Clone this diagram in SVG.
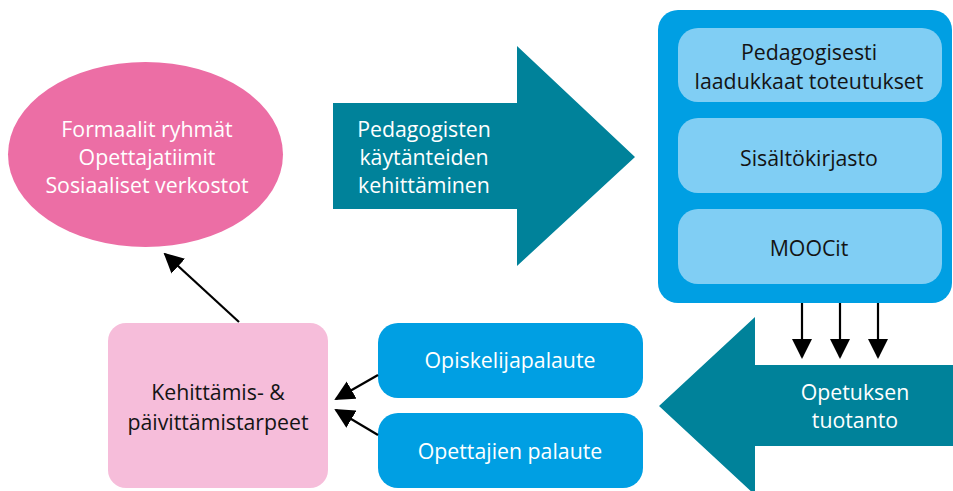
<svg xmlns="http://www.w3.org/2000/svg" width="953" height="491" viewBox="0 0 953 491">
<style>
text{font-family:"Open Sans","Liberation Sans",sans-serif;font-size:21.3px;text-anchor:middle}
.w{fill:#ffffff}
.d{fill:#141414}
.teal{fill:#00829A}
.blue{fill:#009FE3}
.lb{fill:#80CEF4}
.con{stroke:#000;stroke-width:2.2;fill:none}
</style>
<defs>
<marker id="ah2" markerWidth="20" markerHeight="20" refX="18" refY="10" orient="auto" markerUnits="userSpaceOnUse" viewBox="0 0 20 20">
<path d="M0,0 L20,10 L0,20 z" fill="#000"/>
</marker>
</defs>
<rect width="953" height="491" fill="#ffffff"/>
<g id="ellipse-groups">
<ellipse cx="145.5" cy="154.5" rx="137.5" ry="92.5" fill="#EC6EA5"/>
<text class="w" x="147" y="137">Formaalit ryhmät</text>
<text class="w" x="147" y="165">Opettajatiimit</text>
<text class="w" x="147" y="193">Sosiaaliset verkostot</text>
</g>
<g id="arrow-kehittaminen">
<polygon class="teal" points="333,103 517,103 517,46 635,157 517,266 517,209 333,209"/>
<text class="w" x="424" y="137">Pedagogisten</text>
<text class="w" x="424" y="165">käytänteiden</text>
<text class="w" x="424" y="193">kehittäminen</text>
</g>
<g id="container">
<rect class="blue" x="658" y="10" width="294" height="293" rx="20"/>
</g>
<g id="box-pedagogisesti">
<rect class="lb" x="678" y="28" width="264" height="74" rx="20"/>
<text class="d" x="809" y="60">Pedagogisesti</text>
<text class="d" x="809" y="89">laadukkaat toteutukset</text>
</g>
<g id="box-sisalto">
<rect class="lb" x="678" y="118" width="264" height="75" rx="20"/>
<text class="d" x="809" y="166">Sisältökirjasto</text>
</g>
<g id="box-moocit">
<rect class="lb" x="678" y="209" width="264" height="75" rx="20"/>
<text class="d" x="809" y="256">MOOCit</text>
</g>
<g id="arrow-tuotanto">
<polygon class="teal" points="953,365 755,365 755,317 659,406 755,495 755,446 953,446"/>
<text class="w" x="855" y="400">Opetuksen</text>
<text class="w" x="855" y="428">tuotanto</text>
</g>
<g id="box-tarpeet">
<rect x="108" y="323" width="220" height="165" rx="18" fill="#F6BDDA"/>
<text class="d" x="218" y="400">Kehittämis- &amp;</text>
<text class="d" x="218" y="430">päivittämistarpeet</text>
</g>
<g id="box-opiskelija">
<rect class="blue" x="378" y="323" width="265" height="75" rx="20"/>
<text class="w" x="510" y="368">Opiskelijapalaute</text>
</g>
<g id="box-opettaja">
<rect class="blue" x="378" y="413" width="265" height="75" rx="20"/>
<text class="w" x="510" y="459">Opettajien palaute</text>
</g>
<g id="connectors">
<line class="con" x1="802" y1="303" x2="802" y2="357" marker-end="url(#ah2)"/>
<line class="con" x1="840" y1="303" x2="840" y2="357" marker-end="url(#ah2)"/>
<line class="con" x1="878" y1="303" x2="878" y2="357" marker-end="url(#ah2)"/>
<line class="con" x1="239" y1="322" x2="165" y2="254" marker-end="url(#ah2)"/>
<line class="con" x1="378" y1="375" x2="336" y2="399" marker-end="url(#ah2)"/>
<line class="con" x1="378" y1="435" x2="336" y2="410" marker-end="url(#ah2)"/>
</g>
</svg>
